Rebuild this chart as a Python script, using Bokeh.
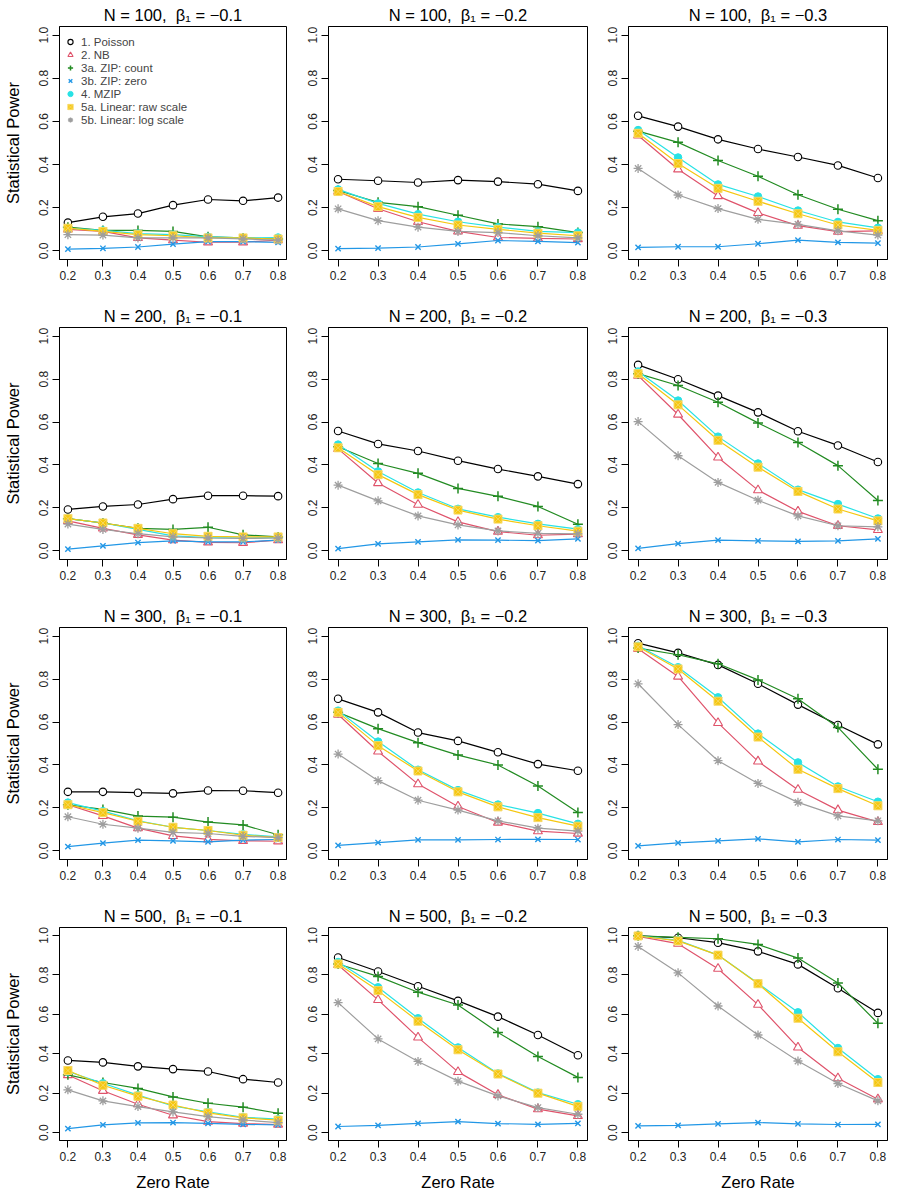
from bokeh.plotting import figure
from bokeh.models import Range1d, FixedTicker, PrintfTickFormatter, Legend, LegendItem
from bokeh.layouts import column, row
from bokeh.embed import file_html
from bokeh.resources import INLINE

zero_rate = [0.2, 0.3, 0.4, 0.5, 0.6, 0.7, 0.8]
sample_sizes = [100, 200, 300, 500]
beta_labels = ["\u22120.1", "\u22120.2", "\u22120.3"]
y_ticks = [0.0, 0.2, 0.4, 0.6, 0.8, 1.0]

method_names = ["1. Poisson", "2. NB", "3a. ZIP: count", "3b. ZIP: zero",
                "4. MZIP", "5a. Linear: raw scale", "5b. Linear: log scale"]

# each list: 12 panels in row-major order (N=100..500 x beta=-0.1..-0.3)
poisson = [
    [0.131, 0.158, 0.173, 0.212, 0.238, 0.232, 0.247],
    [0.332, 0.325, 0.317, 0.328, 0.321, 0.309, 0.278],
    [0.626, 0.576, 0.517, 0.472, 0.435, 0.396, 0.338],
    [0.193, 0.207, 0.216, 0.241, 0.257, 0.257, 0.255],
    [0.558, 0.498, 0.465, 0.420, 0.381, 0.347, 0.311],
    [0.866, 0.799, 0.723, 0.645, 0.557, 0.491, 0.414],
    [0.275, 0.275, 0.271, 0.268, 0.281, 0.280, 0.271],
    [0.708, 0.645, 0.551, 0.512, 0.459, 0.404, 0.373],
    [0.967, 0.922, 0.866, 0.778, 0.681, 0.586, 0.496],
    [0.366, 0.356, 0.336, 0.322, 0.310, 0.271, 0.254],
    [0.888, 0.817, 0.742, 0.668, 0.588, 0.495, 0.392],
    [0.998, 0.988, 0.963, 0.919, 0.853, 0.732, 0.607],
]
nb = [
    [0.100, 0.090, 0.060, 0.050, 0.040, 0.040, 0.050],
    [0.275, 0.195, 0.135, 0.090, 0.062, 0.058, 0.055],
    [0.535, 0.378, 0.254, 0.176, 0.117, 0.089, 0.093],
    [0.140, 0.105, 0.075, 0.050, 0.040, 0.038, 0.050],
    [0.475, 0.316, 0.215, 0.135, 0.090, 0.073, 0.078],
    [0.816, 0.635, 0.435, 0.283, 0.184, 0.117, 0.098],
    [0.215, 0.163, 0.106, 0.070, 0.054, 0.047, 0.045],
    [0.635, 0.463, 0.311, 0.207, 0.132, 0.092, 0.081],
    [0.941, 0.812, 0.596, 0.417, 0.285, 0.190, 0.135],
    [0.292, 0.212, 0.144, 0.088, 0.056, 0.046, 0.041],
    [0.850, 0.673, 0.483, 0.308, 0.192, 0.119, 0.085],
    [0.995, 0.958, 0.831, 0.649, 0.432, 0.276, 0.169],
]
zip_count = [
    [0.110, 0.095, 0.095, 0.090, 0.065, 0.060, 0.055],
    [0.280, 0.225, 0.205, 0.165, 0.125, 0.112, 0.085],
    [0.555, 0.503, 0.419, 0.346, 0.260, 0.193, 0.140],
    [0.150, 0.130, 0.105, 0.100, 0.110, 0.075, 0.065],
    [0.485, 0.407, 0.361, 0.291, 0.254, 0.207, 0.124],
    [0.825, 0.770, 0.692, 0.596, 0.505, 0.397, 0.235],
    [0.215, 0.193, 0.162, 0.157, 0.134, 0.121, 0.075],
    [0.645, 0.569, 0.504, 0.446, 0.400, 0.302, 0.179],
    [0.944, 0.913, 0.871, 0.796, 0.708, 0.575, 0.380],
    [0.293, 0.254, 0.224, 0.181, 0.149, 0.129, 0.098],
    [0.855, 0.792, 0.712, 0.647, 0.508, 0.386, 0.280],
    [0.998, 0.990, 0.983, 0.954, 0.885, 0.759, 0.554],
]
zip_zero = [
    [0.008, 0.012, 0.018, 0.031, 0.043, 0.043, 0.039],
    [0.010, 0.013, 0.018, 0.032, 0.048, 0.044, 0.038],
    [0.016, 0.019, 0.019, 0.033, 0.050, 0.039, 0.036],
    [0.008, 0.023, 0.039, 0.047, 0.042, 0.042, 0.050],
    [0.011, 0.033, 0.042, 0.051, 0.050, 0.048, 0.056],
    [0.012, 0.034, 0.050, 0.047, 0.044, 0.047, 0.056],
    [0.020, 0.036, 0.050, 0.047, 0.042, 0.050, 0.053],
    [0.026, 0.039, 0.051, 0.051, 0.053, 0.054, 0.053],
    [0.023, 0.037, 0.047, 0.056, 0.042, 0.053, 0.050],
    [0.020, 0.039, 0.049, 0.051, 0.047, 0.042, 0.039],
    [0.031, 0.037, 0.047, 0.056, 0.046, 0.042, 0.047],
    [0.034, 0.037, 0.044, 0.051, 0.044, 0.041, 0.042],
]
mzip = [
    [0.105, 0.095, 0.080, 0.075, 0.065, 0.060, 0.062],
    [0.285, 0.220, 0.170, 0.135, 0.110, 0.090, 0.085],
    [0.560, 0.433, 0.308, 0.252, 0.187, 0.134, 0.107],
    [0.150, 0.130, 0.100, 0.070, 0.062, 0.060, 0.062],
    [0.495, 0.370, 0.272, 0.196, 0.157, 0.126, 0.101],
    [0.835, 0.700, 0.532, 0.407, 0.285, 0.218, 0.151],
    [0.225, 0.185, 0.140, 0.110, 0.095, 0.077, 0.065],
    [0.653, 0.509, 0.378, 0.283, 0.216, 0.176, 0.126],
    [0.955, 0.855, 0.715, 0.546, 0.412, 0.300, 0.229],
    [0.310, 0.250, 0.190, 0.135, 0.105, 0.078, 0.068],
    [0.865, 0.737, 0.580, 0.432, 0.300, 0.203, 0.144],
    [0.998, 0.975, 0.900, 0.757, 0.610, 0.429, 0.271],
]
linear_raw = [
    [0.105, 0.090, 0.075, 0.070, 0.060, 0.060, 0.055],
    [0.275, 0.205, 0.155, 0.120, 0.100, 0.082, 0.070],
    [0.545, 0.405, 0.290, 0.230, 0.172, 0.120, 0.095],
    [0.150, 0.130, 0.105, 0.080, 0.068, 0.065, 0.065],
    [0.480, 0.355, 0.262, 0.190, 0.148, 0.117, 0.092],
    [0.825, 0.680, 0.515, 0.390, 0.277, 0.195, 0.140],
    [0.215, 0.178, 0.138, 0.110, 0.095, 0.073, 0.062],
    [0.645, 0.490, 0.372, 0.275, 0.205, 0.155, 0.115],
    [0.950, 0.847, 0.697, 0.530, 0.380, 0.290, 0.210],
    [0.315, 0.240, 0.185, 0.140, 0.100, 0.075, 0.063],
    [0.855, 0.720, 0.565, 0.420, 0.297, 0.200, 0.133],
    [0.997, 0.972, 0.900, 0.755, 0.580, 0.410, 0.254],
]
linear_log = [
    [0.075, 0.073, 0.060, 0.060, 0.060, 0.055, 0.050],
    [0.195, 0.140, 0.110, 0.090, 0.085, 0.070, 0.060],
    [0.382, 0.259, 0.196, 0.146, 0.123, 0.093, 0.073],
    [0.125, 0.100, 0.080, 0.065, 0.060, 0.058, 0.060],
    [0.306, 0.233, 0.163, 0.121, 0.093, 0.082, 0.079],
    [0.602, 0.443, 0.319, 0.236, 0.163, 0.117, 0.112],
    [0.159, 0.124, 0.106, 0.086, 0.081, 0.068, 0.062],
    [0.451, 0.327, 0.236, 0.190, 0.140, 0.106, 0.092],
    [0.778, 0.588, 0.420, 0.314, 0.226, 0.163, 0.140],
    [0.217, 0.161, 0.132, 0.105, 0.081, 0.064, 0.051],
    [0.659, 0.475, 0.361, 0.261, 0.186, 0.127, 0.093],
    [0.944, 0.810, 0.642, 0.495, 0.363, 0.249, 0.161],
]

series = [poisson, nb, zip_count, zip_zero, mzip, linear_raw, linear_log]

styles = [
    dict(marker="circle", size=7.5, line_color="black", fill_color="white", line_width=1.1),
    dict(marker="triangle", size=9, line_color="#DF536B", fill_color="white", line_width=1.1),
    dict(marker="cross", size=10, line_color="#228B22", fill_color=None, line_width=1.5),
    dict(marker="x", size=7.5, line_color="#2297E6", fill_color=None, line_width=1.4),
    dict(marker="circle", size=7.5, line_color="#28E2E5", fill_color="#28E2E5", line_width=1),
    dict(marker="square_x", size=8, line_color="#F8D860", fill_color="#F5C710", line_width=1),
    dict(marker="asterisk", size=9, line_color="#9E9E9E", fill_color=None, line_width=1.3),
]
line_colors = ["black", "#DF536B", "#228B22", "#2297E6", "#28E2E5", "#F5C710", "#9E9E9E"]

FONT = "Liberation Sans"

frame_w = [227, 259, 259]
border_l = [58, 27, 27]
border_r = [15, 14, 14]
frame_h = [233, 232, 232, 213]
border_t = [26, 27, 27, 27]
border_b = [41, 41, 41, 59]

rows = []
for i, n in enumerate(sample_sizes):
    figs = []
    for j, b in enumerate(beta_labels):
        k = i * 3 + j
        p = figure(frame_width=frame_w[j], frame_height=frame_h[i],
                   min_border_left=border_l[j], min_border_right=border_r[j],
                   min_border_top=border_t[i], min_border_bottom=border_b[i],
                   x_range=Range1d(0.176, 0.824), y_range=Range1d(-0.04, 1.04),
                   output_backend="svg", toolbar_location=None, tools="",
                   title=f"N = {n},\u00a0 \u03b2\u2081 = {b}")
        p.title.align = "center"
        p.title.vertical_align = "middle"
        p.title.text_font = FONT
        p.title.text_font_size = "16.5px"
        p.title.text_font_style = "normal"
        p.title.text_color = "black"
        p.title.standoff = 4
        p.title.offset = 0

        p.background_fill_color = "white"
        p.border_fill_color = "white"
        p.outline_line_color = "black"
        p.outline_line_width = 1
        p.outline_line_alpha = 1
        p.grid.visible = False

        p.xaxis.ticker = FixedTicker(ticks=zero_rate)
        p.yaxis.ticker = FixedTicker(ticks=y_ticks)
        p.xaxis.formatter = PrintfTickFormatter(format="%.1f")
        p.yaxis.formatter = PrintfTickFormatter(format="%.1f")
        p.yaxis.major_label_orientation = "vertical"
        for ax in (p.xaxis[0], p.yaxis[0]):
            ax.axis_line_color = "black"
            ax.major_tick_line_color = "black"
            ax.major_tick_out = 7
            ax.major_tick_in = 0
            ax.minor_tick_out = 0
            ax.minor_tick_in = 0
            ax.major_label_text_font = FONT
            ax.major_label_text_font_size = "12px"
            ax.major_label_text_color = "#222222"
        p.xaxis.major_label_standoff = 4
        p.yaxis.major_label_standoff = 4

        if j == 0:
            p.yaxis.axis_label = "Statistical Power"
            p.yaxis.axis_label_text_font = FONT
            p.yaxis.axis_label_text_font_size = "16.5px"
            p.yaxis.axis_label_text_font_style = "normal"
            p.yaxis.axis_label_text_color = "black"
            p.yaxis.axis_label_standoff = 15
        if i == 3:
            p.xaxis.axis_label = "Zero Rate"
            p.xaxis.axis_label_text_font = FONT
            p.xaxis.axis_label_text_font_size = "16.5px"
            p.xaxis.axis_label_text_font_style = "normal"
            p.xaxis.axis_label_text_color = "black"
            p.xaxis.axis_label_standoff = 9

        scatters = []
        for s_idx, data in enumerate(series):
            p.line(zero_rate, data[k], line_color=line_colors[s_idx], line_width=1.2)
            r = p.scatter(zero_rate, data[k], **styles[s_idx])
            scatters.append(r)

        if k == 0:
            items = [LegendItem(label=name, renderers=[r]) for name, r in zip(method_names, scatters)]
            legend = Legend(items=items, location=(1, 133), margin=0, padding=0,
                            spacing=0, glyph_width=20, glyph_height=13, label_height=13,
                            label_standoff=1, label_text_font=FONT,
                            label_text_font_size="11.5px", label_text_baseline="middle",
                            border_line_color=None, background_fill_alpha=0)
            p.add_layout(legend)
        figs.append(p)
    rows.append(row(*figs))

layout = column(*rows)
open("out.html", "w").write(file_html(layout, INLINE))
